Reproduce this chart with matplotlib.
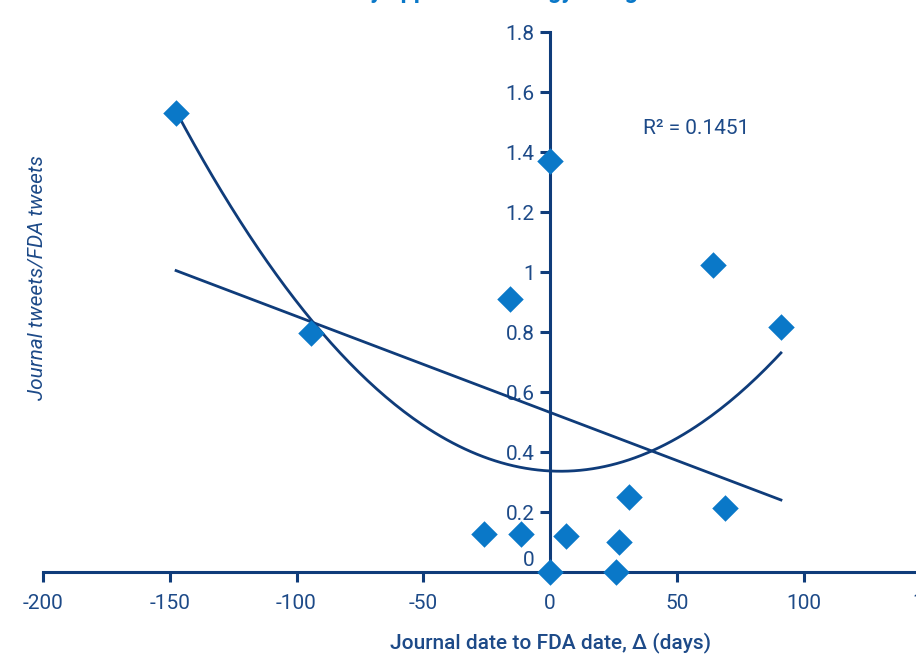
import numpy as np
import matplotlib
matplotlib.use("Agg")
import matplotlib.pyplot as plt
from matplotlib import font_manager

# ---- data ----
delta_days = [-147.5, -94.3, -15.8, 0.0, 64.3, 91.1, 31.2, 69.0, -26.0, -11.4, 6.3, 27.2, 0.0, 26.0]
ratio = [1.53, 0.797, 0.91, 1.37, 1.023, 0.817, 0.25, 0.213, 0.127, 0.127, 0.12, 0.10, 0.0, 0.0]
x_ticks = [-200, -150, -100, -50, 0, 50, 100, 150]
y_ticks = [0, 0.2, 0.4, 0.6, 0.8, 1.0, 1.2, 1.4, 1.6, 1.8]
y_tick_labels = ["0", "0.2", "0.4", "0.6", "0.8", "1", "1.2", "1.4", "1.6", "1.8"]
r2_text = "R\u00b2 = 0.1451"

names = {f.name for f in font_manager.fontManager.ttflist}
fam = "Liberation Sans Narrow" if "Liberation Sans Narrow" in names else "Roboto"
plt.rcParams['font.family'] = [fam, 'DejaVu Sans']

NAVY = "#0f3c7a"
TEXT = "#1d4a88"
BLUE = "#0a78c8"

fig = plt.figure(figsize=(9.16, 6.59), dpi=100)
ax = fig.add_axes([43/916, 1-572/659, 1-43/916, (572-32)/659])
ax.set_xlim(-200, (916-550)/2.535)
ax.set_ylim(0, 1.8)

x = np.array(delta_days)
y = np.array(ratio)
xs = np.linspace(x.min(), x.max(), 200)
lin = np.polyfit(x, y, 1)
quad = np.polyfit(x, y, 2)
ax.plot(xs, np.polyval(lin, xs), color=NAVY, lw=2.0, zorder=2)
ax.plot(xs, np.polyval(quad, xs), color=NAVY, lw=2.0, zorder=2)
ax.scatter(x, y, marker='D', s=13.5**2, color=BLUE, zorder=4, clip_on=False, linewidths=0)

for s in ['top', 'right']:
    ax.spines[s].set_visible(False)
ax.spines['left'].set_position(('data', 0))
ax.spines['bottom'].set_position(('data', 0))
for s in ['left', 'bottom']:
    ax.spines[s].set_color(NAVY)
    ax.spines[s].set_linewidth(2.2)
    ax.spines[s].set_zorder(3)

ax.set_xticks([t for t in x_ticks if t <= 144])
ax.set_xticklabels([str(t) for t in x_ticks if t <= 144])
ax.text(150, -0.103, "150", ha='center', va='center', fontsize=15, color=TEXT, clip_on=False)
ax.set_yticks(y_ticks)
ax.set_yticklabels(y_tick_labels)
ax.tick_params(axis='both', colors=NAVY, labelcolor=TEXT, labelsize=15, width=2.2, length=7, direction='out')
ax.tick_params(axis='x', pad=9)
ax.tick_params(axis='y', pad=4)
for lab in ax.get_yticklabels():
    if lab.get_text() == "0":
        lab.set_transform(lab.get_transform() + matplotlib.transforms.ScaledTranslation(0, 14/100, fig.dpi_scale_trans))

ax.text(36.7, 1.48, r2_text, fontsize=15, color=TEXT, ha='left', va='center')
fig.text(551/916, 1-643/659, "Journal date to FDA date, \u0394 (days)", fontsize=15, color=TEXT,
         ha='center', va='center', fontweight='medium')
fig.text(37/916, 1-278/659, "Journal tweets/FDA tweets", fontsize=15, color=TEXT, style='italic',
         rotation=90, ha='center', va='center')
fig.text(357/916, 1+2/659, "by approval strategy along", fontsize=17, color=BLUE,
         fontweight='bold', ha='left', va='baseline')

fig.savefig("out.png", dpi=100)
